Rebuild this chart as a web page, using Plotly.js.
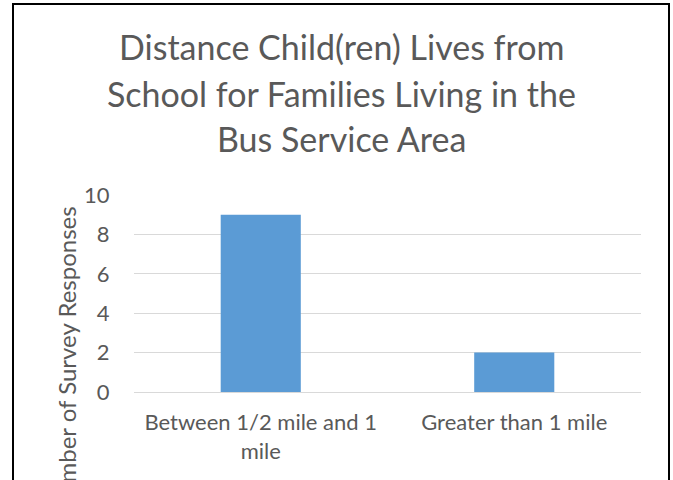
<!DOCTYPE html>
<html><head><meta charset="utf-8">
<script src="https://cdn.plot.ly/plotly-3.0.1.min.js"></script>
<style>html,body{margin:0;padding:0;background:#fff}#chart{width:673px;height:480px}</style>
</head><body><div id="chart"></div>
<script>
const categories = ["Between 1/2 mile and 1 mile", "Greater than 1 mile"];
const tickLabels = ["Between 1/2 mile and 1<br>mile", "Greater than 1 mile"];
const responses = [9, 2];
const yTicks = [0, 2, 4, 6, 8, 10];
const titleLines = ["Distance Child(ren) Lives from", "School for Families Living in the", "Bus Service Area"];
const yTitle = "Number of Survey Responses";

const W = 673, H = 480, L = 134, R = 32, T = 195, B = 88;
const pw = W - L - R, ph = H - T - B;
const px = x => (x - L) / pw;
const py = y => (H - B - y) / ph;
const FONT = "Lato, 'Open Sans', sans-serif";
const GREY = "#595959";
const titleY = [46, 93.5, 138];

const annotations = titleLines.map((t, i) => ({
  text: t, xref: "paper", yref: "paper", x: px(341), y: py(titleY[i]),
  xanchor: "center", yanchor: "middle", showarrow: false,
  font: {size: 34, color: GREY, family: FONT}
}));
annotations.push({text: yTitle, xref: "paper", yref: "paper", x: px(66), y: py(204),
  xanchor: "center", yanchor: "top", textangle: -90, showarrow: false,
  font: {size: 24, color: GREY, family: FONT}});

Plotly.newPlot("chart", [{
  type: "bar", x: categories, y: responses,
  marker: {color: "#5B9BD5"}, hoverinfo: "none"
}], {
  width: W, height: H,
  margin: {l: L, r: R, t: T, b: B, pad: 0},
  paper_bgcolor: "#fff", plot_bgcolor: "#fff",
  bargap: 0.684,
  showlegend: false,
  font: {family: FONT, color: GREY},
  xaxis: {
    tickvals: categories, ticktext: tickLabels,
    tickfont: {size: 22, color: GREY, family: FONT},
    ticks: "outside", ticklen: 11, tickcolor: "rgba(0,0,0,0)",
    showgrid: false, zeroline: false, showline: false, fixedrange: true
  },
  yaxis: {
    range: [0, 10], tickvals: yTicks,
    tickfont: {size: 22, color: GREY, family: FONT},
    ticks: "outside", ticklen: 19, tickcolor: "rgba(0,0,0,0)",
    showgrid: true, gridcolor: "#d9d9d9", gridwidth: 1,
    zeroline: true, zerolinecolor: "#d9d9d9", zerolinewidth: 1,
    showline: false, fixedrange: true
  },
  annotations: annotations,
  shapes: [
    {type: "rect", xref: "paper", yref: "paper",
     x0: px(13), x1: px(669), y0: py(560), y1: py(4),
     line: {color: "#000", width: 2}, fillcolor: "rgba(0,0,0,0)", layer: "above"}
  ]
}, {displayModeBar: false, staticPlot: true});
</script></body></html>
